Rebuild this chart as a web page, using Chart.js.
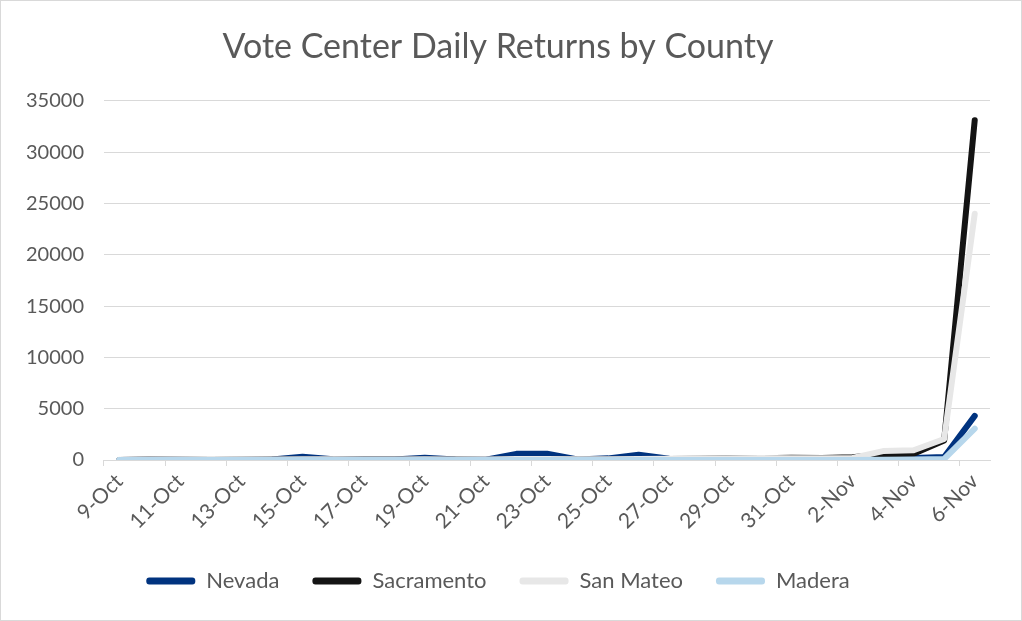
<!DOCTYPE html>
<html>
<head>
<meta charset="utf-8">
<script src="https://cdn.jsdelivr.net/npm/chart.js@4.4.0/dist/chart.umd.min.js"></script>
<style>
  html, body { margin: 0; padding: 0; background: #fff; }
  #wrap { position: relative; width: 1020px; height: 619px; border: 1px solid #d9d9d9; }
</style>
</head>
<body>
<div id="wrap"><canvas id="votes" width="1020" height="619"></canvas></div>
<script>
const days = [
  '9-Oct', '10-Oct', '11-Oct', '12-Oct', '13-Oct', '14-Oct', '15-Oct', '16-Oct',
  '17-Oct', '18-Oct', '19-Oct', '20-Oct', '21-Oct', '22-Oct', '23-Oct', '24-Oct',
  '25-Oct', '26-Oct', '27-Oct', '28-Oct', '29-Oct', '30-Oct', '31-Oct', '1-Nov',
  '2-Nov', '3-Nov', '4-Nov', '5-Nov', '6-Nov'
];

const nevada     = [0, 30, 40, 60, 20, 40, 320, 80, 60, 50, 220, 60, 20, 600, 620, 60, 160, 520, 120, 80, 120, 90, 60, 80, 120, 150, 200, 300, 4300];
const sacramento = [10, 40, 60, 80, 60, 50, 60, 60, 50, 40, 60, 40, 30, 80, 90, 60, 60, 80, 90, 120, 160, 180, 220, 200, 260, 550, 600, 1900, 33100];
const sanMateo   = [20, 60, 80, 90, 70, 60, 80, 70, 60, 60, 70, 60, 40, 90, 100, 80, 80, 90, 120, 150, 180, 200, 160, 180, 200, 870, 950, 2050, 24000];
const madera     = [0, 0, 0, 0, 0, 0, 0, 0, 0, 0, 0, 0, 0, 0, 0, 0, 0, 0, 0, 0, 0, 0, 0, 0, 0, 20, 40, 100, 3050];

const yTicks = [0, 5000, 10000, 15000, 20000, 25000, 30000, 35000];

const textColor = '#595959';
const gridColor = '#d9d9d9';
const font = 'Lato, "Open Sans", sans-serif';

function series(label, data, color, order) {
  return {
    label: label,
    data: data,
    borderColor: color,
    backgroundColor: color,
    borderWidth: 6,
    pointRadius: 0,
    tension: 0,
    borderCapStyle: 'round',
    borderJoinStyle: 'round',
    order: order
  };
}

const ctx = document.getElementById('votes').getContext('2d');
new Chart(ctx, {
  type: 'line',
  data: {
    labels: days,
    datasets: [
      series('Nevada', nevada, '#00337f', 3),
      series('Sacramento', sacramento, '#141414', 2),
      series('San Mateo', sanMateo, '#e7e7e7', 1),
      series('Madera', madera, '#b7d7ec', 0)
    ]
  },
  options: {
    responsive: false,
    animation: false,
    layout: { padding: { top: 10, left: 5, right: 31, bottom: 18 } },
    plugins: {
      title: {
        display: true,
        text: 'Vote Center Daily Returns by County',
        color: textColor,
        font: { family: font, size: 34, weight: 400 },
        padding: { top: 16, bottom: 33 }
      },
      legend: {
        position: 'bottom',
        labels: {
          color: textColor,
          font: { family: font, size: 22 },
          boxWidth: 49,
          boxHeight: 7,
          padding: 33,
          useBorderRadius: true,
          borderRadius: 3,
          sort: (a, b) => a.datasetIndex - b.datasetIndex,
          generateLabels: (chart) => {
            const items = Chart.defaults.plugins.legend.labels.generateLabels(chart);
            items.forEach(it => { it.lineWidth = 0; });
            return items;
          }
        }
      },
      tooltip: { enabled: false }
    },
    scales: {
      x: {
        offset: true,
        // rotated labels may spill into the y-label gutter; keep the plot wide
        afterFit: (scale) => {
          scale.height = 77;
          scale.paddingLeft = 0;
          scale.paddingRight = 0;
        },
        grid: {
          offset: true,
          drawOnChartArea: false,
          tickLength: 6,
          color: (c) => (c.index % 2 === 0 ? gridColor : 'rgba(0,0,0,0)')
        },
        border: { color: gridColor, width: 1 },
        ticks: {
          autoSkip: false,
          minRotation: 45,
          maxRotation: 45,
          color: textColor,
          font: { family: font, size: 21 },
          callback: function (val, i) { return i % 2 === 0 ? days[i] : ''; }
        }
      },
      y: {
        min: yTicks[0],
        max: yTicks[yTicks.length - 1],
        afterBuildTicks: (scale) => { scale.ticks = yTicks.map(v => ({ value: v })); },
        grid: { color: gridColor, drawTicks: false },
        border: { display: false },
        ticks: {
          color: textColor,
          font: { family: font, size: 20 },
          padding: 20,
          callback: (v) => String(v)
        }
      }
    }
  }
});
</script>
</body>
</html>
